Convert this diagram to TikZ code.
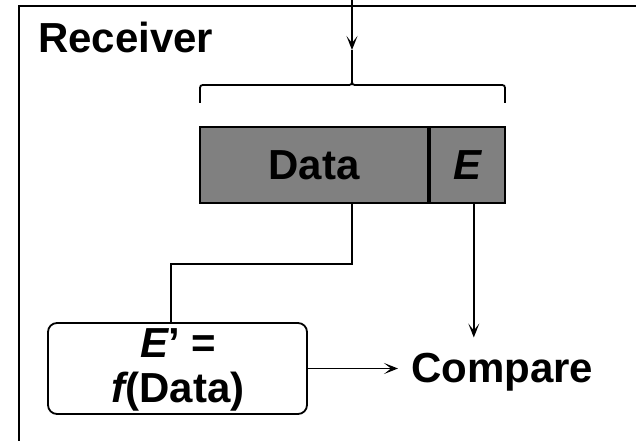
\documentclass[tikz,border=0pt]{standalone}
\usepackage{fontspec}
\setmainfont{Liberation Sans}
\usetikzlibrary{arrows.meta,calc}
\definecolor{cellgray}{RGB}{128,128,128}
\begin{document}
\begin{tikzpicture}[x=1pt,y=-1pt,
  big/.style={font=\bfseries\fontsize{42}{45}\selectfont, inner sep=0pt},
  conn/.style={line width=1.8pt},
  arr/.style={conn, -{Stealth[length=14pt,width=11pt,inset=7pt]}},
  cell/.style={draw, line width=1.8pt, fill=cellgray, minimum height=76pt, inner sep=0pt, big}
]
\useasboundingbox (0,0) rectangle (636,441);
% frame
\draw[line width=2pt] (636,6) -- (19,6) -- (19,441);
\node[big, anchor=base west] (recv) at (38,53) {Receiver};
% packet
\node[cell, minimum width=228pt] (data) at (314,165) {Data};
\node[cell, minimum width=75pt, anchor=west] (e) at (data.east) {\itshape E};
% brace
\draw[conn] (200,103) -- (200,91) .. controls (200,85) .. (206,85) -- (346,85)
  .. controls (352,85) .. (352,79) .. controls (352,85) .. (358,85) -- (499,85)
  .. controls (505,85) .. (505,91) -- (505,103);
\coordinate (src) at (352,0);
\coordinate (head) at (352,50);
\coordinate (tip) at (352,79);
\draw[arr] (src) -- (head);
\draw[conn] (head) -- (tip);
% function box
\node[draw, line width=1.8pt, rounded corners=9pt, minimum width=259pt, minimum height=91pt, inner sep=0pt] (fbox) at (177.5,368.5) {};
\node[big, align=center] (ftext) at (178,370) {\itshape E\upshape’ =\\\itshape f\upshape(Data)};
\node[big, anchor=base west] (cmp) at (411,382) {Compare};
% connectors
\draw[conn] ([xshift=38pt]data.south) -- ++(0,60) -| ([xshift=-6.5pt]fbox.north);
\draw[arr, line width=1.4pt] ([xshift=6.5pt]e.south) -- ([xshift=6.5pt,yshift=15pt]e.south |- cmp.north);
\draw[arr] (fbox.east) -- ([xshift=-13pt]fbox.east -| cmp.west);
\end{tikzpicture}
\end{document}
